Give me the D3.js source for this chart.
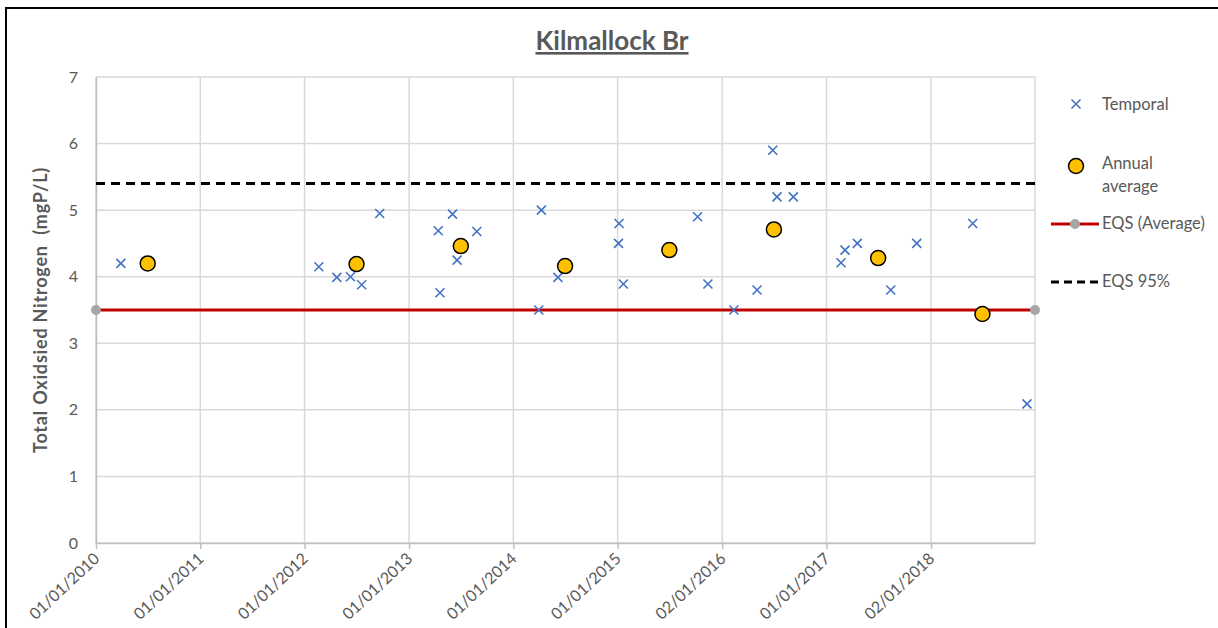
<!DOCTYPE html>
<html>
<head>
<meta charset="utf-8">
<script src="https://cdn.jsdelivr.net/npm/d3@7"></script>
<style>
  body { margin: 0; background: #fff; }
  text { font-family: Lato, "Open Sans", sans-serif; }
</style>
</head>
<body>
<svg id="app" width="1218" height="628"></svg>
<script>
// temporal samples (date, mg/L)
const sampleDates = [
    "2010-03-29",
    "2012-02-20", "2012-04-23", "2012-06-10", "2012-07-19", "2012-09-20",
    "2013-04-13", "2013-04-19", "2013-06-02", "2013-06-18", "2013-08-26",
    "2014-03-31", "2014-04-09", "2014-06-06",
    "2015-01-04", "2015-01-06", "2015-01-21", "2015-10-08", "2015-11-13",
    "2016-02-12", "2016-05-03", "2016-06-27", "2016-07-12", "2016-09-07",
    "2017-02-21", "2017-03-07", "2017-04-19", "2017-08-14", "2017-11-13",
    "2018-05-28", "2018-12-04"
];
const sampleValues = [
    4.2,
    4.15, 3.99, 4.0, 3.88, 4.95,
    4.69, 3.76, 4.94, 4.25, 4.68,
    3.5, 5.0, 3.99,
    4.5, 4.8, 3.89, 4.9, 3.89,
    3.5, 3.8, 5.9, 5.2, 5.2,
    4.21, 4.4, 4.5, 3.8, 4.5,
    4.8, 2.09
];

// annual averages, plotted mid-year
const avgDates = ["2010-07-01", "2012-07-01", "2013-07-01", "2014-07-01", "2015-07-01", "2016-07-01", "2017-07-01", "2018-07-01"];
const avgValues = [4.2, 4.19, 4.46, 4.16, 4.4, 4.71, 4.28, 3.44];

// standards
const eqsDates = ["2010-01-01", "2019-01-01"];
const eqsAvg = 3.5;
const eqs95 = 5.4;

const tickDates = ["2010-01-01", "2011-01-01", "2012-01-01", "2013-01-01", "2014-01-01",
    "2015-01-01", "2016-01-02", "2017-01-01", "2018-01-02"];
const tickLabels = ["01/01/2010", "01/01/2011", "01/01/2012", "01/01/2013", "01/01/2014",
    "01/01/2015", "02/01/2016", "01/01/2017", "02/01/2018"];
const yTicks = [0, 1, 2, 3, 4, 5, 6, 7];

const parse = d3.utcParse("%Y-%m-%d");
const grey = "#595959";

const margin = {left: 96, right: 1035, top: 77, bottom: 543};

const x = d3.scaleUtc()
    .domain(eqsDates.map(parse))
    .range([margin.left, margin.right]);
const y = d3.scaleLinear()
    .domain([0, 7])
    .range([margin.bottom, margin.top]);

const svg = d3.select("#app");

// outer frame
svg.append("rect")
    .attr("x", 6).attr("y", 8)
    .attr("width", 1220).attr("height", 640)
    .attr("fill", "none")
    .attr("stroke", "#000")
    .attr("stroke-width", 2);

// title
svg.append("text")
    .attr("x", 612).attr("y", 50)
    .attr("text-anchor", "middle")
    .attr("font-size", 26)
    .attr("font-weight", "bold")
    .attr("fill", grey)
    .attr("text-decoration", "underline")
    .text("Kilmallock Br");

// gridlines
const grid = svg.append("g");
yTicks.forEach(t => {
    grid.append("line")
        .attr("x1", margin.left).attr("x2", margin.right)
        .attr("y1", y(t)).attr("y2", y(t))
        .attr("stroke", "#d9d9d9").attr("stroke-width", 1.5);
});
tickDates.concat(["2019-01-01"]).forEach(d => {
    grid.append("line")
        .attr("x1", x(parse(d))).attr("x2", x(parse(d)))
        .attr("y1", margin.top).attr("y2", margin.bottom)
        .attr("stroke", "#d9d9d9").attr("stroke-width", 1.5);
});

// axes
const xAxis = svg.append("g")
    .attr("transform", `translate(0,${margin.bottom})`)
    .call(d3.axisBottom(x)
        .tickValues(tickDates.map(parse))
        .tickFormat((d, i) => tickLabels[i])
        .tickSizeInner(6)
        .tickSizeOuter(0));
xAxis.select(".domain").attr("stroke", "#bfbfbf").attr("stroke-width", 1.5);
xAxis.selectAll(".tick line").attr("stroke", "#bfbfbf").attr("stroke-width", 1.5);
xAxis.selectAll(".tick text")
    .attr("font-size", 16)
    .attr("fill", grey)
    .attr("text-anchor", "end")
    .attr("dy", null)
    .attr("y", 0)
    .attr("transform", "translate(4,17) rotate(-43)");

const yAxis = svg.append("g")
    .attr("transform", `translate(${margin.left},0)`)
    .call(d3.axisLeft(y).tickValues(yTicks).tickFormat(d3.format("d")).tickSize(0).tickPadding(18));
yAxis.select(".domain").attr("stroke", "#bfbfbf").attr("stroke-width", 1.5);
yAxis.selectAll(".tick text")
    .attr("font-size", 16)
    .attr("fill", grey);

svg.append("text")
    .attr("transform", `translate(47,${(margin.top + margin.bottom) / 2}) rotate(-90)`)
    .attr("text-anchor", "middle")
    .attr("font-size", 18)
    .attr("letter-spacing", 0.8)
    .attr("font-weight", "bold")
    .attr("fill", grey)
    .attr("xml:space", "preserve")
    .text("Total Oxidsied Nitrogen  (mgP/L)");

// EQS lines
const line = d3.line().x(d => x(d[0])).y(d => y(d[1]));
const eqsAvgPts = eqsDates.map(d => [parse(d), eqsAvg]);
const eqs95Pts = eqsDates.map(d => [parse(d), eqs95]);

svg.append("path")
    .attr("d", line(eqs95Pts))
    .attr("stroke", "#000").attr("stroke-width", 3)
    .attr("stroke-dasharray", "9,6")
    .attr("fill", "none");

svg.append("path")
    .attr("d", line(eqsAvgPts))
    .attr("stroke", "#c00000").attr("stroke-width", 3)
    .attr("fill", "none");
svg.selectAll(".eqsdot")
    .data(eqsAvgPts)
    .join("circle")
    .attr("cx", d => x(d[0])).attr("cy", d => y(d[1]))
    .attr("r", 5)
    .attr("fill", "#a6a6a6");

// temporal crosses
function cross(g, cx, cy, s) {
    g.append("path")
        .attr("d", `M${cx - s},${cy - s}L${cx + s},${cy + s}M${cx - s},${cy + s}L${cx + s},${cy - s}`)
        .attr("stroke", "#4472c4")
        .attr("stroke-width", 1.6)
        .attr("fill", "none");
}
const crosses = svg.append("g");
sampleDates.forEach((d, i) => cross(crosses, x(parse(d)), y(sampleValues[i]), 4.5));

// annual averages
svg.append("g").selectAll("circle")
    .data(avgDates.map((d, i) => [parse(d), avgValues[i]]))
    .join("circle")
    .attr("cx", d => x(d[0])).attr("cy", d => y(d[1]))
    .attr("r", 7.5)
    .attr("fill", "#ffc000")
    .attr("stroke", "#000")
    .attr("stroke-width", 1.5);

// legend
const lg = svg.append("g");
const lx = 1102;
const fs = 16.5;
cross(lg, 1076, 104, 4.5);
lg.append("text").attr("x", lx).attr("y", 110).attr("font-size", fs).attr("fill", grey).text("Temporal");

lg.append("circle").attr("cx", 1076).attr("cy", 166).attr("r", 7.5)
    .attr("fill", "#ffc000").attr("stroke", "#000").attr("stroke-width", 1.5);
lg.append("text").attr("x", lx).attr("y", 169).attr("font-size", fs).attr("fill", grey).text("Annual");
lg.append("text").attr("x", lx).attr("y", 192).attr("font-size", fs).attr("fill", grey).text("average");

lg.append("line").attr("x1", 1051).attr("x2", 1099).attr("y1", 224).attr("y2", 224)
    .attr("stroke", "#c00000").attr("stroke-width", 3);
lg.append("circle").attr("cx", 1075).attr("cy", 224).attr("r", 5).attr("fill", "#a6a6a6");
lg.append("text").attr("x", lx).attr("y", 229).attr("font-size", fs).attr("fill", grey).text("EQS (Average)");

lg.append("line").attr("x1", 1051).attr("x2", 1099).attr("y1", 282).attr("y2", 282)
    .attr("stroke", "#000").attr("stroke-width", 3).attr("stroke-dasharray", "8,5");
lg.append("text").attr("x", lx).attr("y", 287).attr("font-size", fs).attr("fill", grey).text("EQS 95%");
</script>
</body>
</html>
